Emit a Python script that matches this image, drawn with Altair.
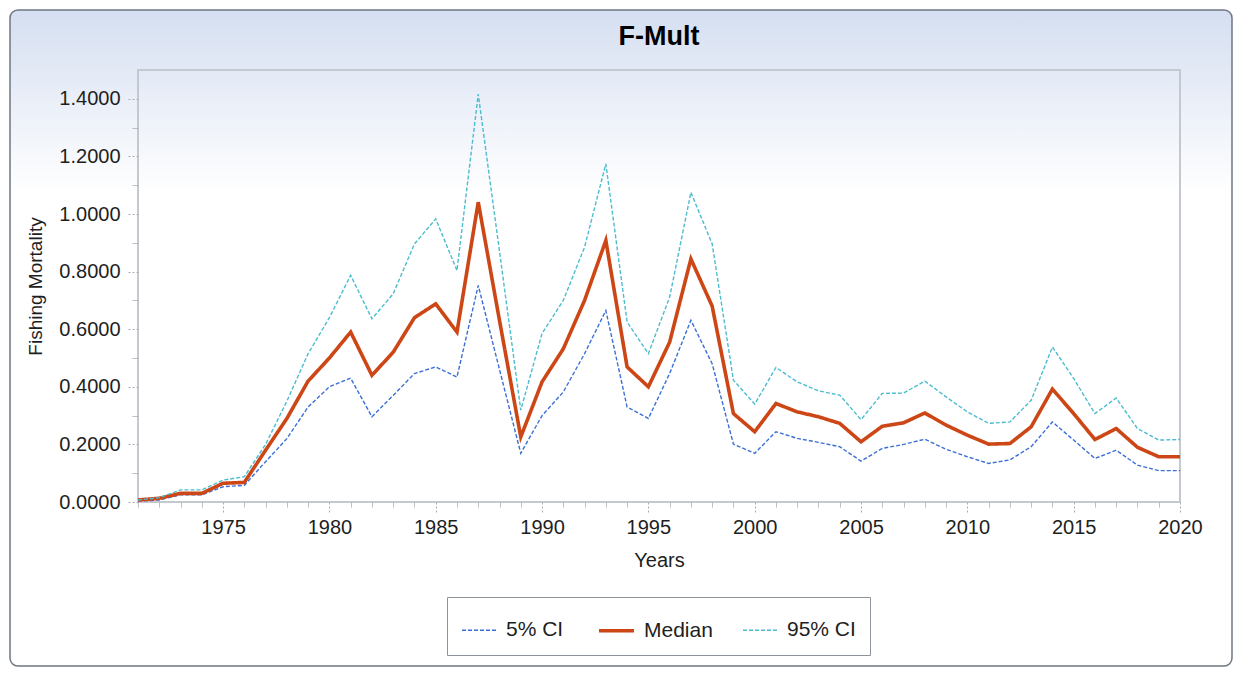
import altair as alt
import pandas as pd

# ---- data ----
years = list(range(1971, 2021))
lower_5 = [0.003, 0.007, 0.025, 0.025, 0.053, 0.058, 0.14, 0.22, 0.33, 0.40,
           0.43, 0.296, 0.37, 0.446, 0.469, 0.434, 0.752, 0.46, 0.169, 0.30,
           0.382, 0.515, 0.665, 0.33, 0.29, 0.446, 0.631, 0.48, 0.201, 0.169,
           0.244, 0.221, 0.207, 0.192, 0.142, 0.186, 0.20, 0.218, 0.183, 0.157,
           0.134, 0.146, 0.192, 0.278, 0.215, 0.151, 0.18, 0.128, 0.109, 0.109]
median = [0.007, 0.013, 0.030, 0.030, 0.065, 0.068, 0.18, 0.29, 0.42, 0.50,
          0.59, 0.44, 0.52, 0.64, 0.688, 0.59, 1.041, 0.63, 0.226, 0.417,
          0.532, 0.70, 0.908, 0.469, 0.40, 0.555, 0.844, 0.68, 0.307, 0.244,
          0.342, 0.313, 0.296, 0.273, 0.209, 0.263, 0.275, 0.309, 0.267, 0.232,
          0.201, 0.203, 0.261, 0.392, 0.307, 0.217, 0.255, 0.19, 0.157, 0.157]
upper_95 = [0.007, 0.015, 0.042, 0.042, 0.076, 0.088, 0.20, 0.35, 0.515, 0.64,
            0.787, 0.636, 0.723, 0.896, 0.983, 0.804, 1.416, 0.87, 0.319, 0.585,
            0.70, 0.885, 1.174, 0.625, 0.515, 0.711, 1.075, 0.896, 0.423, 0.34,
            0.467, 0.417, 0.386, 0.371, 0.286, 0.377, 0.378, 0.42, 0.365, 0.313,
            0.273, 0.278, 0.353, 0.538, 0.429, 0.307, 0.361, 0.255, 0.215, 0.217]

series_names = ["5% CI", "Median", "95% CI"]
series_values = [lower_5, median, upper_95]
y_ticks = [0.0, 0.1, 0.2, 0.3, 0.4, 0.5, 0.6, 0.7, 0.8, 0.9, 1.0, 1.1, 1.2, 1.3, 1.4]

# ---- styles ----
series_colors = ["#3b6fd6", "#cc4616", "#4cbccf"]
series_dash = [[4, 2], [1, 0], [4, 2]]
series_width = [1.4, 3.6, 1.4]
FONT = "Liberation Sans"
W, H = 1042, 432

rows = []
for name, vals in zip(series_names, series_values):
    for yr, v in zip(years, vals):
        rows.append({"Year": yr, "Value": v, "Series": name})
df = pd.DataFrame(rows)

one = alt.Data(values=[{"a": 1}])

bg = alt.Chart(one).mark_rect(
    fill=alt.LinearGradient(
        gradient="linear", x1=0, y1=0, x2=0, y2=1,
        stops=[alt.GradientStop(color="#d5dff1", offset=0),
               alt.GradientStop(color="#ffffff", offset=0.28),
               alt.GradientStop(color="#ffffff", offset=1)]),
    stroke="#6f7784", strokeWidth=1.5, cornerRadius=8,
).encode(x=alt.value(-128), x2=alt.value(W + 52), y=alt.value(-60), y2=alt.value(H + 164))

frame = alt.Chart(one).mark_rect(
    fill="transparent", stroke="#c4c8cf", strokeWidth=2,
).encode(x=alt.value(0), x2=alt.value(W), y=alt.value(0), y2=alt.value(H))

legend = alt.Legend(
    title=None, orient="none", legendX=309, legendY=527, direction="horizontal",
    symbolType="stroke", symbolSize=1225, labelFontSize=21, labelFont=FONT,
    labelColor="#1e1e1e", labelOffset=8, columnPadding=27, padding=14,
    fillColor="white", strokeColor="#8e949c", zindex=1,
)

major_x = "datum.value % 5 === 0"
major_y = "round(datum.value * 10) % 2 === 0"

lines = alt.Chart(df).mark_line().encode(
    x=alt.X("Year:Q",
            scale=alt.Scale(domain=[1971, 2020], nice=False, zero=False),
            axis=alt.Axis(values=years, format="d",
                          labelExpr=f"{major_x} ? datum.label : ''",
                          domain=False, grid=False, tickColor="#a9adb3",
                          tickSize={"condition": {"test": major_x, "value": 10}, "value": 5},
                          tickDash={"condition": {"test": major_x, "value": [2, 2]}, "value": [1, 0]},
                          labelFont=FONT, labelFontSize=20, labelColor="#1e1e1e",
                          labelPadding=5, labelOverlap=False, labelFlush=False,
                          title="Years", titleFont=FONT, titleFontSize=20,
                          titleFontWeight="normal", titleColor="#1e1e1e",
                          titleX=W / 2, titleY=58, titleBaseline="middle",
                          zindex=1)),
    y=alt.Y("Value:Q",
            scale=alt.Scale(domain=[0, 1.5], nice=False, zero=True),
            axis=alt.Axis(values=y_ticks,
                          labelExpr=f"{major_y} ? format(datum.value, '.4f') : ''",
                          domain=False, grid=False, tickColor="#a9adb3",
                          tickSize={"condition": {"test": major_y, "value": 12}, "value": 6},
                          tickDash={"condition": {"test": major_y, "value": [2, 2]}, "value": [1, 0]},
                          labelFont=FONT, labelFontSize=20, labelColor="#1e1e1e",
                          labelPadding=6, labelOverlap=False, labelFlush=False,
                          title="Fishing Mortality", titleFont=FONT, titleFontSize=19,
                          titleFontWeight="normal", titleColor="#1e1e1e",
                          titleX=-103, titleY=H / 2, titleAngle=270,
                          titleAlign="center", titleBaseline="middle",
                          zindex=1)),
    color=alt.Color("Series:N", scale=alt.Scale(domain=series_names, range=series_colors), legend=legend),
    strokeDash=alt.StrokeDash("Series:N", scale=alt.Scale(domain=series_names, range=series_dash), legend=legend),
    strokeWidth=alt.StrokeWidth("Series:N", scale=alt.Scale(type="ordinal", domain=series_names, range=series_width), legend=legend),
)

chart = alt.layer(bg, frame, lines).properties(
    width=W, height=H,
    padding={"left": 130, "top": 62, "right": 54, "bottom": 166},
    autosize=alt.AutoSizeParams(type="none"),
    title=alt.TitleParams("F-Mult", font=FONT, fontSize=27, fontWeight="bold",
                          color="black", anchor="middle", baseline="alphabetic",
                          frame="group", offset=0, dy=63, zindex=1),
    background="white",
).configure_view(stroke=None)

chart.save("out.html", embed_options={"renderer": "svg", "actions": False})
